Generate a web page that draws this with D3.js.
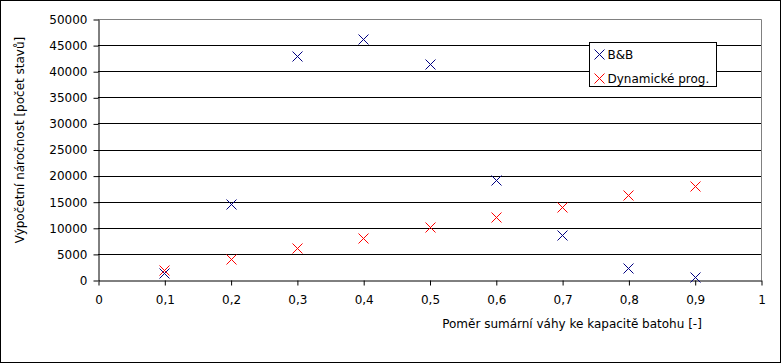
<!DOCTYPE html>
<html>
<head>
<meta charset="utf-8">
<script src="https://cdn.jsdelivr.net/npm/d3@7"></script>
<style>
  body { margin: 0; background: #fff; }
  text { font-family: "DejaVu Sans", sans-serif; font-size: 12px; fill: #000; }
</style>
</head>
<body>
<div id="chart"></div>
<script>
var svgWidth = 781;
var svgHeight = 363;

// data
var ratios = [0.1, 0.2, 0.3, 0.4, 0.5, 0.6, 0.7, 0.8, 0.9];
var bbStates = [1400, 14500, 43000, 46100, 41300, 19150, 8550, 2240, 640];
var dynStates = [1900, 3950, 6070, 7980, 10090, 12000, 13920, 16220, 17950];
var seriesNames = ["B&B", "Dynamické prog."];
var seriesColors = ["#000080", "#ff0000"];
var xTicks = [0, 0.1, 0.2, 0.3, 0.4, 0.5, 0.6, 0.7, 0.8, 0.9, 1];
var yTicks = d3.range(0, 50001, 5000);

var plot = { left: 98, right: 761, top: 19, bottom: 280 };

var svg = d3.select("#chart")
  .append("svg")
  .attr("width", svgWidth)
  .attr("height", svgHeight);

svg.append("rect")
  .attr("x", 0.5).attr("y", 0.5)
  .attr("width", svgWidth - 1).attr("height", svgHeight - 1)
  .attr("fill", "#fff").attr("stroke", "#000");

var xScale = d3.scaleLinear().domain([0, 1]).range([plot.left, plot.right]);
var yScale = d3.scaleLinear().domain([0, 50000]).range([plot.bottom, plot.top]);

var fmtX = d => d3.format(".1~f")(d).replace(".", ",");

// gridlines
svg.append("g")
  .selectAll("line")
  .data(yTicks.filter(d => d > 0 && d < 50000))
  .enter()
  .append("line")
  .attr("x1", plot.left).attr("x2", plot.right)
  .attr("y1", d => Math.round(yScale(d)) + 0.5)
  .attr("y2", d => Math.round(yScale(d)) + 0.5)
  .attr("stroke", "#000");

// plot border (gray top/right)
svg.append("path")
  .attr("d", `M${plot.left},${plot.top + 0.5}H${plot.right + 0.5}V${plot.bottom}`)
  .attr("fill", "none")
  .attr("stroke", "#808080");

// axes
var bottomAxis = d3.axisBottom(xScale).tickValues(xTicks).tickFormat(fmtX).tickSize(5).tickSizeOuter(0);
var leftAxis = d3.axisLeft(yScale).tickValues(yTicks).tickFormat(d3.format("d")).tickSize(5).tickSizeOuter(0);

var xAxis = svg.append("g")
  .attr("transform", `translate(0.5, ${plot.bottom + 0.5})`)
  .call(bottomAxis);
xAxis.selectAll("text").attr("dy", "1.3em");

var yAxis = svg.append("g")
  .attr("transform", `translate(${plot.left + 0.5}, 0.5)`)
  .call(leftAxis);
yAxis.selectAll("text").attr("x", -11);

svg.selectAll(".domain, .tick line").attr("stroke", "#000");
svg.selectAll(".tick text").style("font-size", "12px").style("font-family", "DejaVu Sans, sans-serif");

// axis titles
svg.append("text")
  .attr("transform", "translate(24, 140) rotate(-90)")
  .attr("text-anchor", "middle")
  .text("Výpočetní náročnost [počet stavů]");

svg.append("text")
  .attr("x", 572).attr("y", 328)
  .attr("text-anchor", "middle")
  .text("Poměr sumární váhy ke kapacitě batohu [-]");

// x marker
function cross(sel, size) {
  sel.append("path")
    .attr("d", `M${-size},${-size}L${size},${size}M${-size},${size}L${size},${-size}`)
    .attr("fill", "none")
    .attr("stroke-width", 1);
}

var series = [bbStates, dynStates];
series.forEach(function(vals, i) {
  var g = svg.append("g").selectAll("g")
    .data(ratios.map((r, j) => ({ x: r, y: vals[j] })))
    .enter()
    .append("g")
    .attr("transform", d => `translate(${Math.round(xScale(d.x)) + 0.5}, ${Math.round(yScale(d.y)) + 0.5})`)
    .attr("stroke", seriesColors[i]);
  cross(g, 5);
});

// legend
var legend = svg.append("g").attr("transform", "translate(589.5, 42.5)");
legend.append("rect")
  .attr("width", 127).attr("height", 44)
  .attr("fill", "#fff").attr("stroke", "#000");
var items = legend.selectAll(".item")
  .data(seriesNames)
  .enter()
  .append("g")
  .attr("class", "item")
  .attr("transform", (d, i) => `translate(0, ${12 + i * 24})`);
items.each(function(d, i) {
  var m = d3.select(this).append("g")
    .attr("transform", "translate(10, 0)")
    .attr("stroke", seriesColors[i]);
  cross(m, 5);
});
items.append("text")
  .attr("x", 18).attr("y", 0).attr("dy", "0.35em")
  .text(d => d);
</script>
</body>
</html>
